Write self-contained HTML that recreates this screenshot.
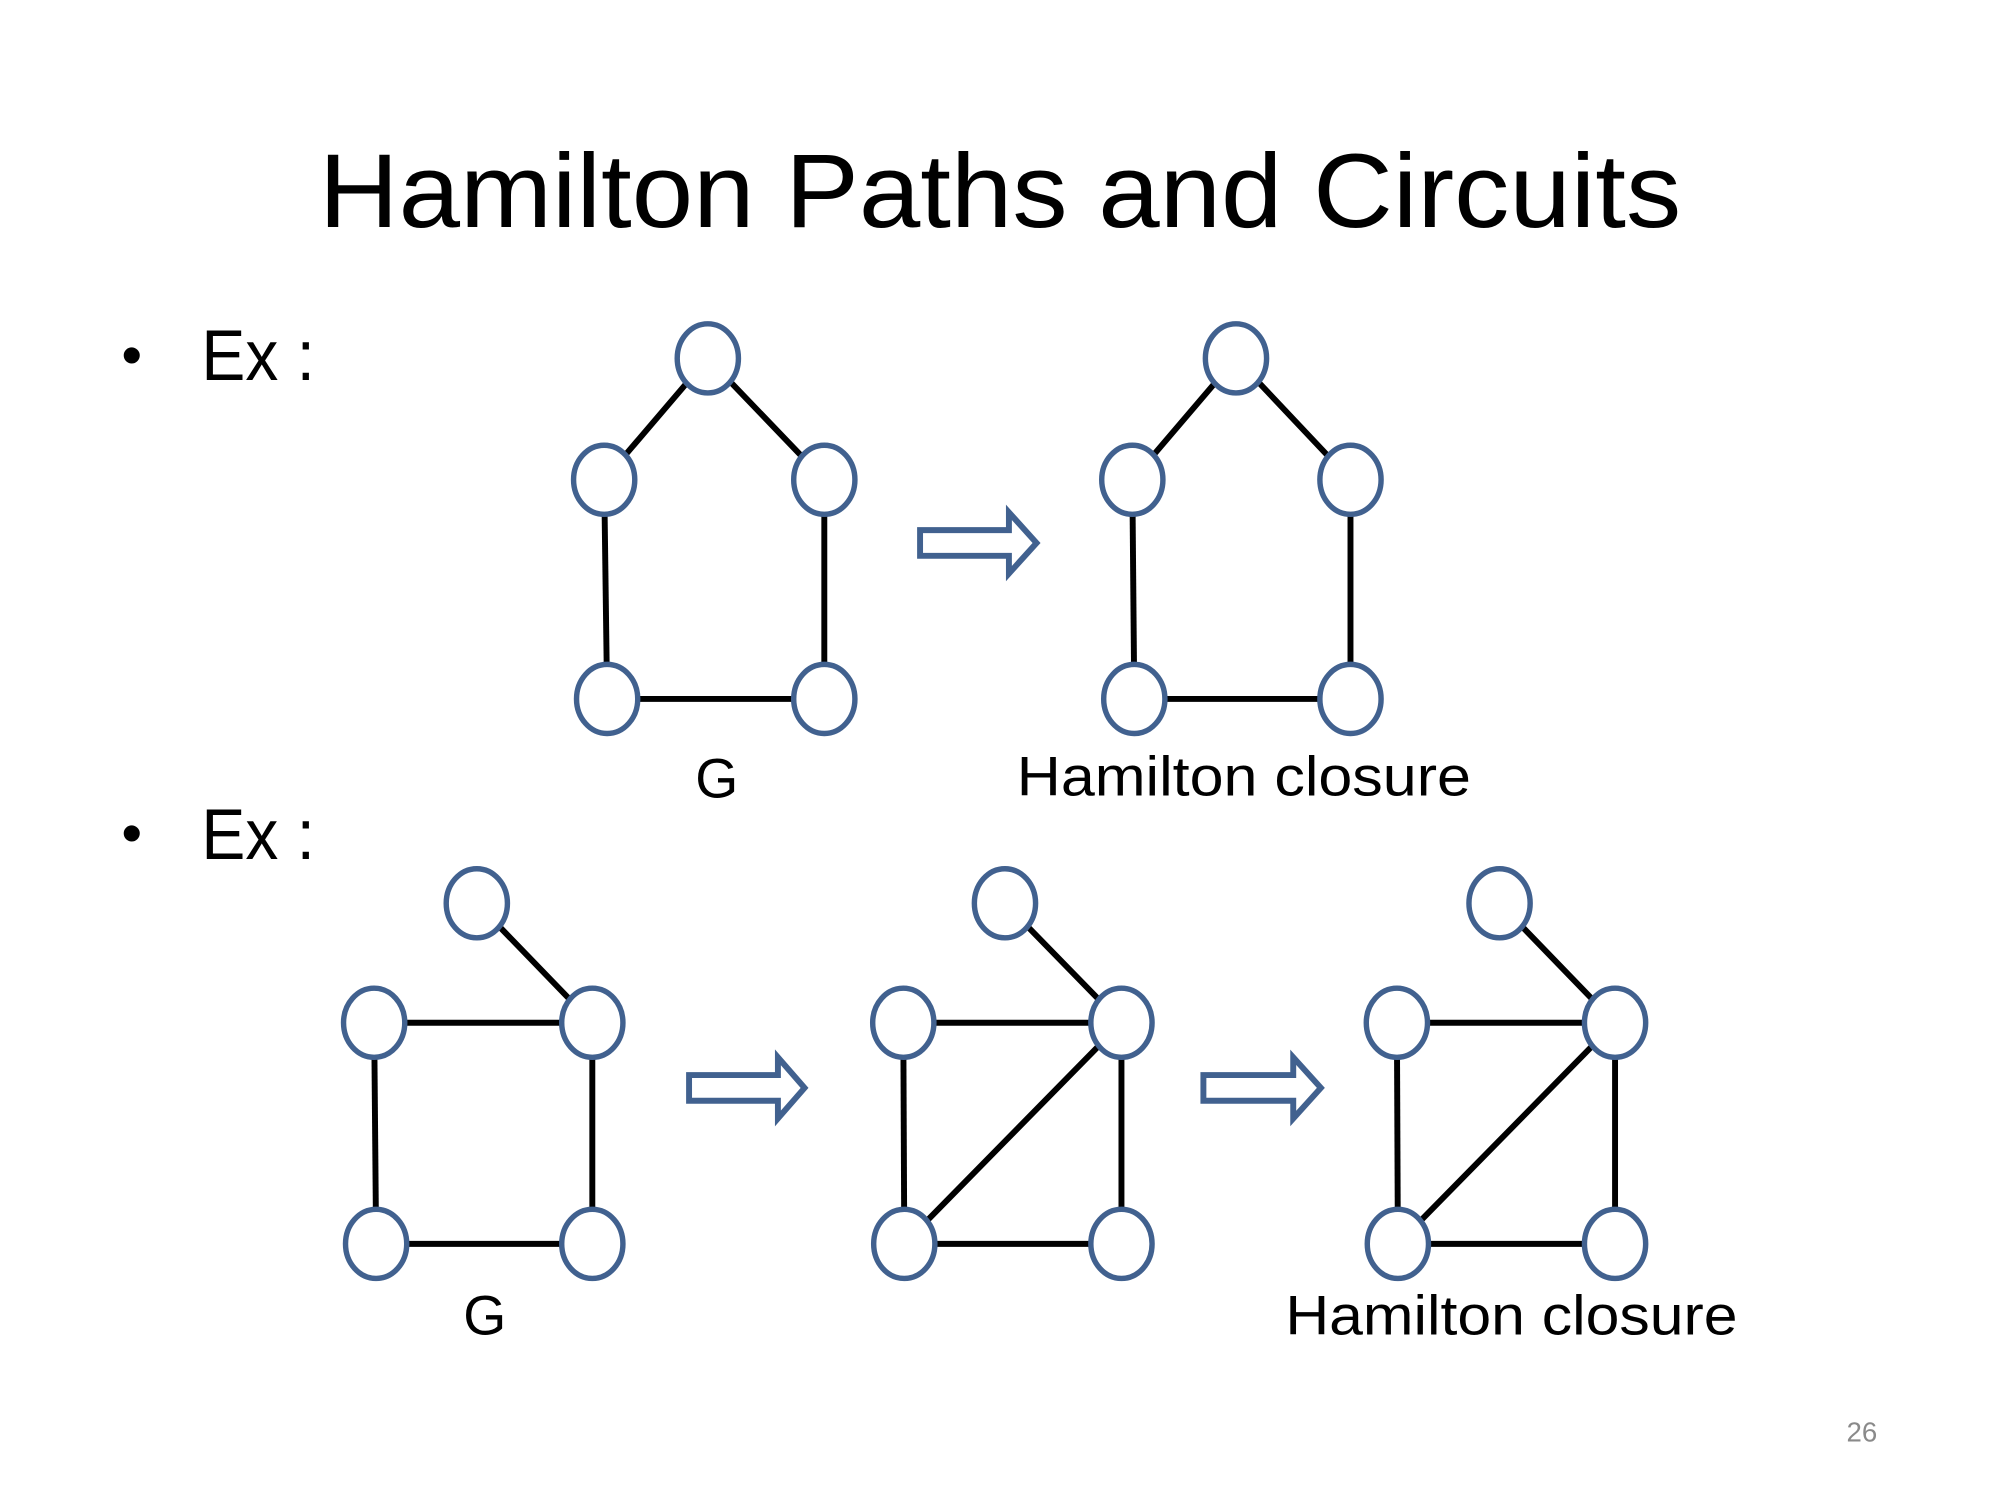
<!DOCTYPE html>
<html><head><meta charset="utf-8"><style>
html,body{margin:0;padding:0;background:#fff;}
svg{display:block;}
text{font-family:"Liberation Sans",sans-serif;fill:#000;}
</style></head><body>
<svg width="2000" height="1500" viewBox="0 0 2000 1500" xmlns="http://www.w3.org/2000/svg">
<g transform="scale(0.9872)">
<text x="323" y="230" font-size="106" textLength="1380" lengthAdjust="spacingAndGlyphs">Hamilton Paths and Circuits</text>
<text x="123" y="380" font-size="60">•</text>
<text x="204" y="385" font-size="72" textLength="115" lengthAdjust="spacingAndGlyphs">Ex :</text>
<text x="123" y="864" font-size="60">•</text>
<text x="204" y="870" font-size="72" textLength="115" lengthAdjust="spacingAndGlyphs">Ex :</text>

<g stroke="#000" stroke-width="6" fill="none">
<line x1="717" y1="363" x2="612" y2="486"/><line x1="717" y1="363" x2="835" y2="486"/>
<line x1="612" y1="486" x2="615" y2="708"/><line x1="835" y1="486" x2="835" y2="708"/>
<line x1="615" y1="708" x2="835" y2="708"/>
<line x1="1252" y1="363" x2="1147" y2="486"/><line x1="1252" y1="363" x2="1368" y2="486"/>
<line x1="1147" y1="486" x2="1149" y2="708"/><line x1="1368" y1="486" x2="1368" y2="708"/>
<line x1="1149" y1="708" x2="1368" y2="708"/>
<line x1="483" y1="915" x2="600" y2="1036"/><line x1="379" y1="1036" x2="600" y2="1036"/>
<line x1="379" y1="1036" x2="381" y2="1260"/><line x1="600" y1="1036" x2="600" y2="1260"/>
<line x1="381" y1="1260" x2="600" y2="1260"/>
<line x1="1018" y1="915" x2="1136" y2="1036"/><line x1="915" y1="1036" x2="1136" y2="1036"/>
<line x1="915" y1="1036" x2="916" y2="1260"/><line x1="1136" y1="1036" x2="1136" y2="1260"/>
<line x1="916" y1="1260" x2="1136" y2="1260"/><line x1="916" y1="1260" x2="1136" y2="1036"/>
<line x1="1519" y1="915" x2="1636" y2="1036"/><line x1="1415" y1="1036" x2="1636" y2="1036"/>
<line x1="1415" y1="1036" x2="1416" y2="1260"/><line x1="1636" y1="1036" x2="1636" y2="1260"/>
<line x1="1416" y1="1260" x2="1636" y2="1260"/><line x1="1416" y1="1260" x2="1636" y2="1036"/>
</g>

<g stroke="#41618f" stroke-width="5.5" fill="#fff">
<ellipse cx="717" cy="363" rx="31" ry="35"/><ellipse cx="612" cy="486" rx="31" ry="35"/>
<ellipse cx="835" cy="486" rx="31" ry="35"/><ellipse cx="615" cy="708" rx="31" ry="35"/>
<ellipse cx="835" cy="708" rx="31" ry="35"/>
<ellipse cx="1252" cy="363" rx="31" ry="35"/><ellipse cx="1147" cy="486" rx="31" ry="35"/>
<ellipse cx="1368" cy="486" rx="31" ry="35"/><ellipse cx="1149" cy="708" rx="31" ry="35"/>
<ellipse cx="1368" cy="708" rx="31" ry="35"/>
<ellipse cx="483" cy="915" rx="31" ry="35"/><ellipse cx="379" cy="1036" rx="31" ry="35"/>
<ellipse cx="600" cy="1036" rx="31" ry="35"/><ellipse cx="381" cy="1260" rx="31" ry="35"/>
<ellipse cx="600" cy="1260" rx="31" ry="35"/>
<ellipse cx="1018" cy="915" rx="31" ry="35"/><ellipse cx="915" cy="1036" rx="31" ry="35"/>
<ellipse cx="1136" cy="1036" rx="31" ry="35"/><ellipse cx="916" cy="1260" rx="31" ry="35"/>
<ellipse cx="1136" cy="1260" rx="31" ry="35"/>
<ellipse cx="1519" cy="915" rx="31" ry="35"/><ellipse cx="1415" cy="1036" rx="31" ry="35"/>
<ellipse cx="1636" cy="1036" rx="31" ry="35"/><ellipse cx="1416" cy="1260" rx="31" ry="35"/>
<ellipse cx="1636" cy="1260" rx="31" ry="35"/>
</g>

<g stroke="#41618f" stroke-width="6" fill="#fff">
<polygon points="932,537 1022,537 1022,519 1050,550 1022,581 1022,563 932,563"/>
<polygon points="698,1089 788,1089 788,1071 815,1102 788,1133 788,1115 698,1115"/>
<polygon points="1219,1089 1310,1089 1310,1071 1338,1102 1310,1133 1310,1115 1219,1115"/>
</g>

<text x="726" y="808" font-size="56" text-anchor="middle">G</text>
<text x="1030" y="806" font-size="56" textLength="460" lengthAdjust="spacingAndGlyphs">Hamilton closure</text>
<text x="491" y="1352" font-size="56" text-anchor="middle">G</text>
<text x="1302" y="1352" font-size="56" textLength="458" lengthAdjust="spacingAndGlyphs">Hamilton closure</text>
<text x="1886" y="1460" font-size="28" text-anchor="middle" style="fill:#8a8a8a">26</text>
</g>
</svg>
</body></html>
